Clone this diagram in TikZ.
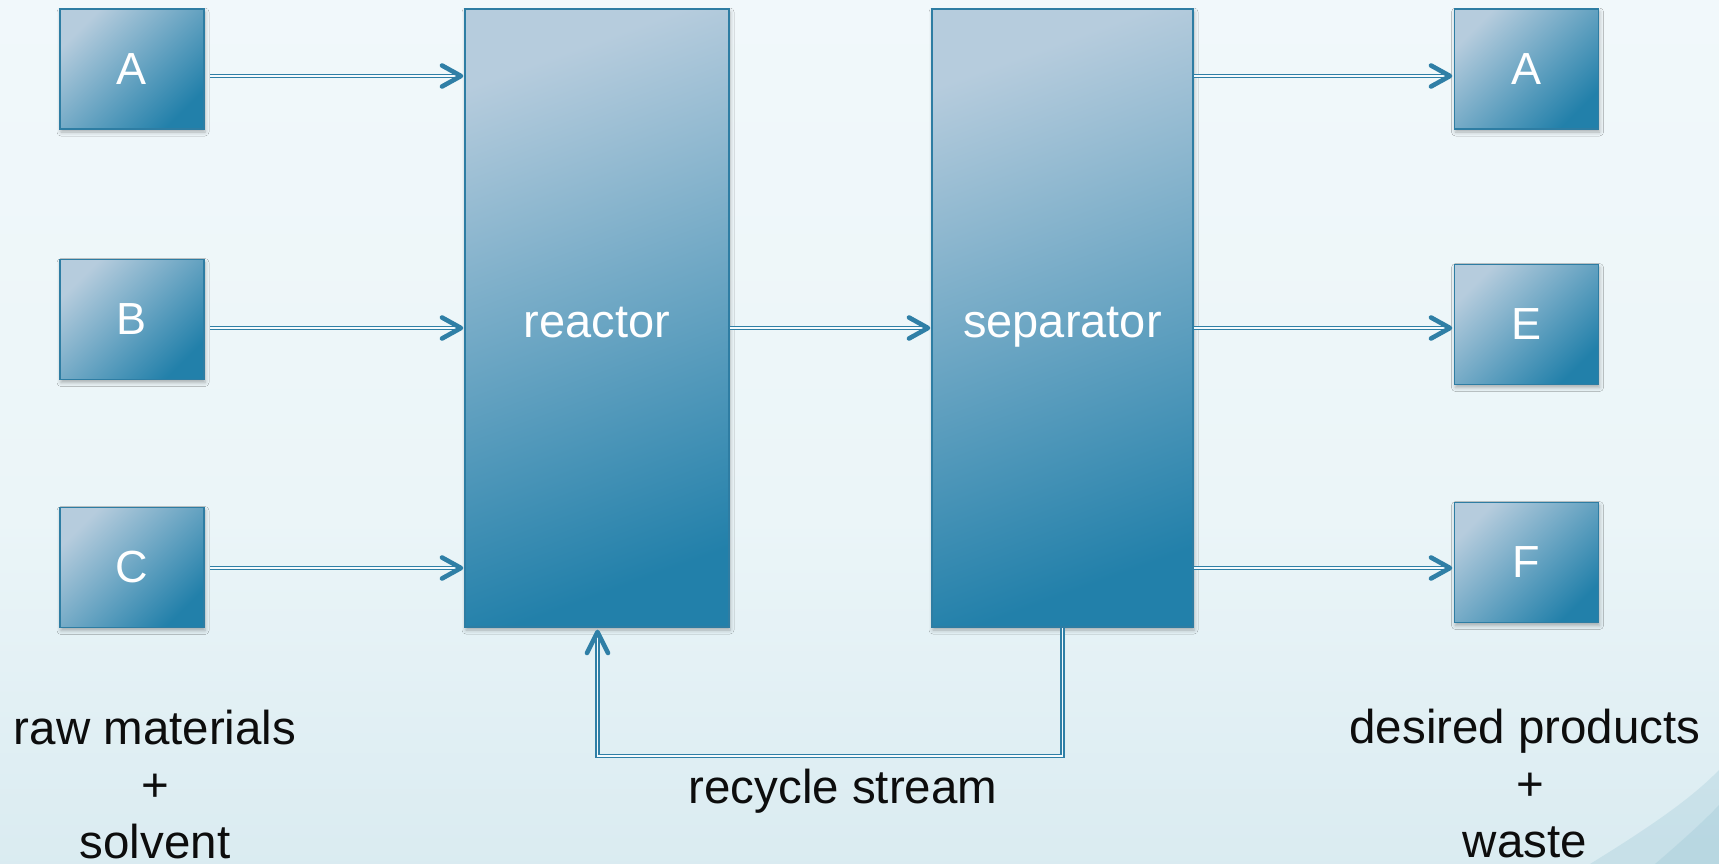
\documentclass[tikz,border=0pt]{standalone}
\usepackage{fontspec}
\setmainfont{Liberation Sans}
\usetikzlibrary{calc,shadows.blur}
\definecolor{bgtop}{HTML}{F6FBFD}
\definecolor{bgmid}{HTML}{EBF5F8}
\definecolor{bgbot}{HTML}{B6D7E2}
\definecolor{boxlight}{HTML}{B6CCDD}
\definecolor{boxdark}{HTML}{2280AA}
\definecolor{edge}{HTML}{2E7DA3}
\definecolor{arrowc}{HTML}{2F7FA6}
\definecolor{swoosh}{HTML}{8FC0D0}
\pgfdeclareverticalshading{bgsh}{100bp}{color(0bp)=(bgbot); color(20bp)=(bgmid!60!bgbot); color(45bp)=(bgmid); color(100bp)=(bgtop)}
\tikzset{
  unitbox/.style={rectangle, draw=edge, line width=1.8pt, inner sep=0pt,
    top color=boxlight, bottom color=boxdark, shading angle=45,
    text=white, font=\fontsize{45}{54}\selectfont,
    blur shadow={shadow blur radius=4pt, shadow xshift=1pt, shadow yshift=-3pt, shadow opacity=30}},
  smallbox/.style={unitbox, minimum width=144pt, minimum height=120pt},
  bigbox/.style={unitbox, minimum height=618pt, shading angle=20,
    font=\fontsize{47}{56}\selectfont, text height=38pt, text depth=0pt},
  flow/.style={draw=arrowc, line width=1.4pt, double=bgtop, double distance=1.8pt},
  tipst/.style={draw=arrowc, line width=4.6pt, line cap=round, line join=round},
  lbl/.style={text=black!95, font=\fontsize{47.5}{57}\selectfont, align=center, inner sep=0pt}
}
\newcommand\chevR[1]{\draw[tipst] ([shift={(-19,-10.5)}]#1) -- (#1) -- ([shift={(-19,10.5)}]#1);}
\newcommand\chevU[1]{\draw[tipst] ([shift={(-10.5,21)}]#1) -- (#1) -- ([shift={(10.5,21)}]#1);}
\begin{document}
\begin{tikzpicture}[x=1pt,y=-1pt]
\useasboundingbox (0,0) rectangle (1719,864);
\shade[shading=bgsh] (0,0) rectangle (1719,864);
% swoosh bottom right
\fill[swoosh, opacity=0.25] (1590,864) .. controls (1645,830) and (1690,800) .. (1719,770) -- (1719,864) -- cycle;
\fill[swoosh, opacity=0.25] (1655,864) .. controls (1683,840) and (1705,820) .. (1719,805) -- (1719,864) -- cycle;

% input boxes
\node[smallbox] (inA) at (132,69) {A};
\node[smallbox] (inB) at (132,319.5) {B};
\node[smallbox] (inC) at (132,567.5) {C};
% main units
\node[bigbox, minimum width=264pt] (reactor) at (597,318) {reactor};
\node[bigbox, minimum width=261pt] (separator) at (1062.5,318) {separator};
% outputs
\node[smallbox] (outA) at (1526.5,69) {A};
\node[smallbox] (outE) at (1526.5,324.5) {E};
\node[smallbox] (outF) at (1526.5,562.5) {F};

% arrow end points
\coordinate (rinA) at (461,76);
\coordinate (rinB) at (461,328);
\coordinate (rinC) at (461,568);
\coordinate (sinM) at (928,328);
\coordinate (toA) at (1450,76);
\coordinate (toE) at (1450,328);
\coordinate (toF) at (1450,568);
\coordinate (recTip) at (597.5,632);
\coordinate (recLow) at (597.5,756);

% inputs to reactor
\draw[flow] ($(inA.east |- rinA)+(5,0)$) -- (rinA); \chevR{rinA}
\draw[flow] ($(inB.east |- rinB)+(5,0)$) -- (rinB); \chevR{rinB}
\draw[flow] ($(inC.east |- rinC)+(5,0)$) -- (rinC); \chevR{rinC}
% reactor to separator
\draw[flow] (reactor.east |- sinM) -- (sinM); \chevR{sinM}
% separator to outputs
\draw[flow] (separator.east |- toA) -- (toA); \chevR{toA}
\draw[flow] (separator.east |- toE) -- (toE); \chevR{toE}
\draw[flow] (separator.east |- toF) -- (toF); \chevR{toF}
% recycle
\draw[flow] (separator.south) |- (recLow) -- (recTip); \chevU{recTip}

% labels
\node[lbl, anchor=base] (raw) at (155,858) {raw materials\\+\\solvent};
\node[lbl, anchor=base] (prod) at (1525,857) {desired products\\\hspace*{11pt}+\\waste};
\node[lbl, anchor=base] (recy) at (843,803) {recycle stream};
\end{tikzpicture}
\end{document}
